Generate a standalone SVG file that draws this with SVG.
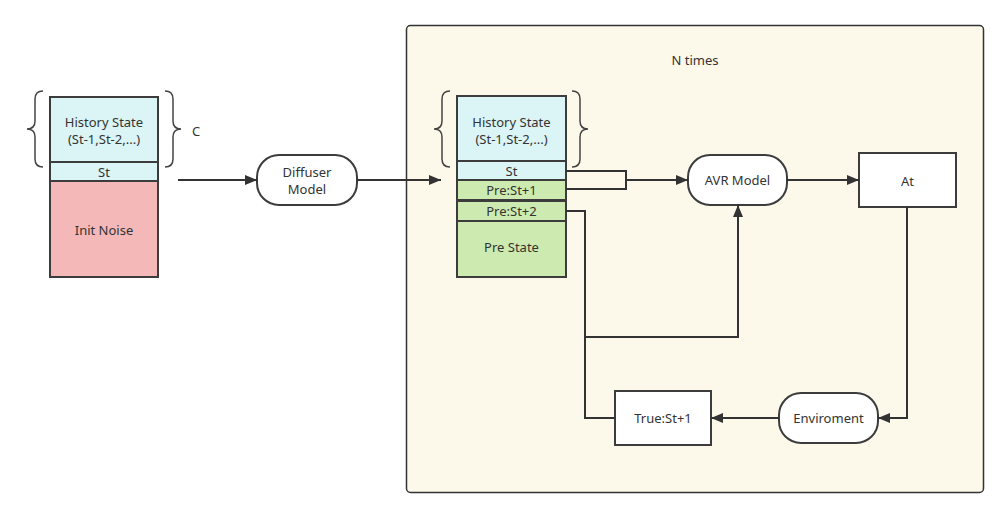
<svg xmlns="http://www.w3.org/2000/svg" width="1008" height="518" viewBox="0 0 1008 518">
<style>
.t{font-family:"Noto Sans","Open Sans",sans-serif;font-size:13px;fill:#333;text-anchor:middle;dominant-baseline:central}
.s{stroke:#3c3c3c;stroke-width:2}
.c{fill:none;stroke:#333;stroke-width:2}
.br{fill:none;stroke:#444;stroke-width:1.5}
</style>
<defs>
<marker id="ah" viewBox="0 0 12 10" refX="12" refY="5" markerWidth="12" markerHeight="10" markerUnits="userSpaceOnUse" orient="auto">
<path d="M0,0 L12,5 L0,10 Z" fill="#333"/>
</marker>
</defs>
<rect width="1008" height="518" fill="#fff"/>
<g id="container">
<rect x="406.5" y="25.5" width="577" height="467" rx="4" fill="#fcf8ea" stroke="#333" stroke-width="1.5"/>
<text class="t" x="695" y="60">N times</text>
</g>
<g id="left-stack">
<rect class="s" x="50" y="97" width="108" height="65" fill="#dbf4f5"/>
<text class="t" x="104" y="122">History State</text>
<text class="t" x="104" y="139">(St-1,St-2,...)</text>
<rect class="s" x="50" y="162" width="108" height="19" fill="#dbf4f5"/>
<text class="t" x="104" y="172">St</text>
<rect class="s" x="50" y="181" width="108" height="96" fill="#f4b8b8"/>
<text class="t" x="104" y="230">Init Noise</text>
<path class="br" d="M43,91 Q35,91 35,99 L35,121 Q35,129 27,129 Q35,129 35,137 L35,159 Q35,167 43,167"/>
<path class="br" d="M165,91 Q173,91 173,99 L173,121 Q173,129 181,129 Q173,129 173,137 L173,159 Q173,167 165,167"/>
<text class="t" x="196" y="131">C</text>
</g>
<g id="diffuser">
<rect class="s" x="257" y="155" width="100" height="50" rx="22" fill="#fff"/>
<text class="t" x="307" y="172">Diffuser</text>
<text class="t" x="307" y="189">Model</text>
</g>
<g id="right-stack">
<rect class="s" x="457" y="96" width="109" height="65" fill="#dbf4f5"/>
<text class="t" x="511.5" y="122">History State</text>
<text class="t" x="511.5" y="139">(St-1,St-2,...)</text>
<rect class="s" x="457" y="161" width="109" height="19" fill="#dbf4f5"/>
<text class="t" x="511.5" y="171">St</text>
<rect class="s" x="457" y="180" width="109" height="20" fill="#cdebb0"/>
<text class="t" x="511.5" y="190">Pre:St+1</text>
<rect class="s" x="457" y="201" width="109" height="20" fill="#cdebb0"/>
<text class="t" x="511.5" y="211">Pre:St+2</text>
<rect class="s" x="457" y="221" width="109" height="56" fill="#cdebb0"/>
<text class="t" x="511.5" y="247">Pre State</text>
<path class="br" d="M450,91 Q442,91 442,99 L442,121 Q442,129 434,129 Q442,129 442,137 L442,159 Q442,167 450,167"/>
<path class="br" d="M572,91 Q580,91 580,99 L580,121 Q580,129 588,129 Q580,129 580,137 L580,159 Q580,167 572,167"/>
</g>
<g id="avr">
<rect class="s" x="688" y="155" width="99" height="50" rx="22" fill="#fff"/>
<text class="t" x="737.5" y="180">AVR Model</text>
</g>
<g id="at">
<rect class="s" x="859" y="153" width="97" height="54" fill="#fff"/>
<text class="t" x="907.5" y="181">At</text>
</g>
<g id="env">
<rect class="s" x="779" y="393" width="99" height="50" rx="22" fill="#fff"/>
<text class="t" x="828.5" y="418">Enviroment</text>
</g>
<g id="true">
<rect class="s" x="615" y="391" width="96" height="54" fill="#fff"/>
<text class="t" x="663" y="418">True:St+1</text>
</g>
<g id="connectors">
<path class="c" d="M178,180 L257,180" marker-end="url(#ah)"/>
<path class="c" d="M357,180 L441,180" marker-end="url(#ah)"/>
<path class="c" d="M566,171 L626,171 L626,189 L566,189"/>
<path class="c" d="M626,180 L688,180" marker-end="url(#ah)"/>
<path class="c" d="M787,180 L859,180" marker-end="url(#ah)"/>
<path class="c" d="M907,207 L907,418 L878,418" marker-end="url(#ah)"/>
<path class="c" d="M779,418 L711,418" marker-end="url(#ah)"/>
<path class="c" d="M615,418 L585,418 L585,211 L566,211"/>
<path class="c" d="M585,337 L738,337 L738,205" marker-end="url(#ah)"/>
</g>
</svg>
